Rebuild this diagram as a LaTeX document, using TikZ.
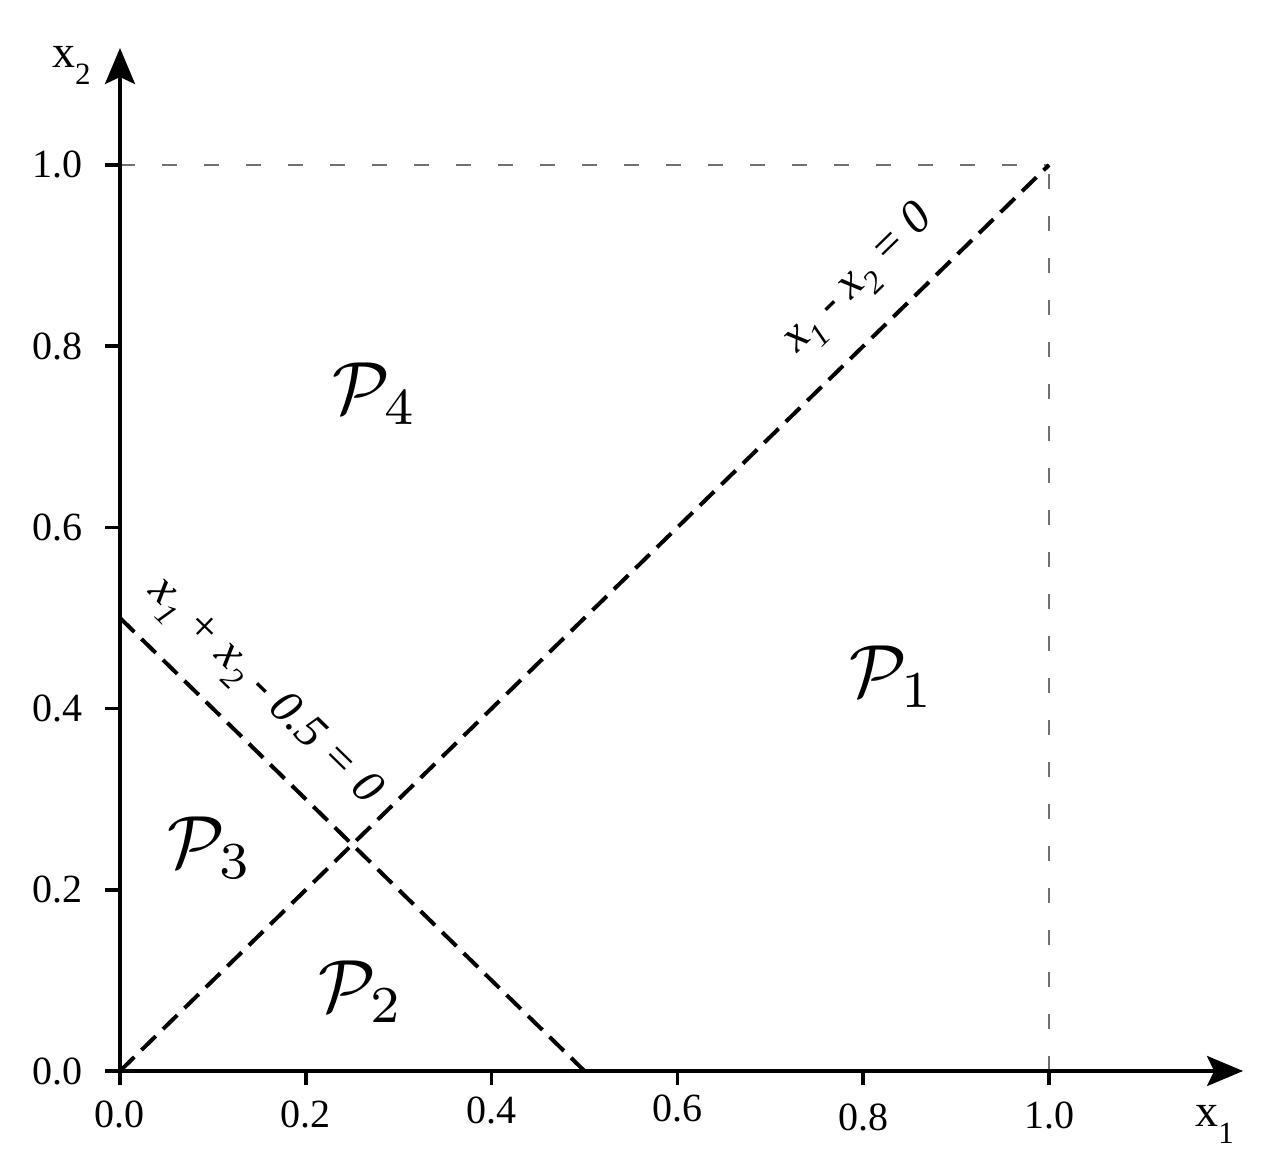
\documentclass[tikz,border=0pt]{standalone}
\usepackage[no-math]{fontspec}
\setmainfont{Liberation Serif}
\usetikzlibrary{arrows.meta}
\definecolor{guidegray}{RGB}{112,112,112}
\newcommand{\axsub}[2]{#1\raisebox{-17pt}{\fontsize{31}{31}\selectfont #2}}
\newcommand{\eqsub}[2]{#1\raisebox{-13pt}{\fontsize{32}{32}\selectfont #2}}
\begin{document}
\begin{tikzpicture}[x=929pt,y=906pt,
  axisline/.style={line width=3.5pt,-{Stealth[length=36pt,width=30pt,inset=7pt]}},
  tickmark/.style={line width=3.5pt},
  guide/.style={draw=guidegray,line width=2pt,dash pattern=on 15pt off 27pt},
  boundary/.style={line width=4pt,dash pattern=on 20pt off 10pt},
  ticklbl/.style={font=\fontsize{40}{40}\selectfont,inner sep=0pt},
  axlbl/.style={font=\fontsize{46}{46}\selectfont,inner sep=0pt},
  region/.style={font=\fontsize{10}{12}\selectfont,inner sep=0pt,scale=7.4,transform shape},
  eqlbl/.style={font=\fontsize{47}{47}\selectfont\itshape,inner sep=0pt}]
\useasboundingbox (-0.12917,-0.11369) rectangle (1.23789,1.18212);
\coordinate (O) at (0,0);
\coordinate (XE) at (1.2089,0);
\coordinate (YE) at (0,1.1291);
\coordinate (C11) at (1,1);
\coordinate (C10) at (1,0);
\coordinate (C01) at (0,1);
\coordinate (H0) at (0,0.5);
\coordinate (H1) at (0.5,0);
% guides
\draw[guide] (C01) -- (C11);
\draw[guide] (C10) -- (C11);
% ticks
\foreach \v in {0,0.2,0.4,0.6,0.8,1.0}{
  \draw[tickmark] (0,\v) -- ++(-15pt,0);
  \draw[tickmark] (\v,0) -- ++(0,-14pt);
}
% axes
\draw[axisline] (O) -- (XE);
\draw[axisline] (O) -- (YE);
% y tick labels
\foreach \v/\n in {0.0/0,0.2/2,0.4/4,0.6/6,0.8/8,1.0/10}{
  \node[ticklbl,anchor=east] (ly\n) at ([xshift=-37pt]0,\v) {\v};
}
% x tick labels
\foreach \v/\n/\d in {0.0/0/56,0.2/2/56,0.4/4/52,0.6/6/50,0.8/8/59,1.0/10/57}{
  \node[ticklbl,anchor=base] (lx\n) at ([yshift=-\d pt]\v,0) {\v};
}
% axis labels
\node[axlbl,anchor=base west] (xtwo) at (-0.0732,1.1071) {\axsub{x}{2}};
\node[axlbl,anchor=base west] (xone) at (1.1572,-0.0618) {\axsub{x}{1}};
% boundaries
\draw[boundary] (O) -- (C11);
\draw[boundary] (H0) -- (H1);
% equation labels
\node[eqlbl,rotate=44.28] (eqa) at (0.7960,0.8730) {\eqsub{x}{1} - \eqsub{x}{2} = 0};
\node[eqlbl,rotate=-44.28] (eqb) at (0.1540,0.4180) {\eqsub{x}{1} + \eqsub{x}{2} - 0.5 = 0};
% regions
\node[region] (p4) at (0.2745,0.7472) {$\mathcal{P}_4$};
\node[region] (p1) at (0.8310,0.4349) {$\mathcal{P}_1$};
\node[region] (p3) at (0.0969,0.2461) {$\mathcal{P}_3$};
\node[region] (p2) at (0.2594,0.0871) {$\mathcal{P}_2$};
\end{tikzpicture}
\end{document}
